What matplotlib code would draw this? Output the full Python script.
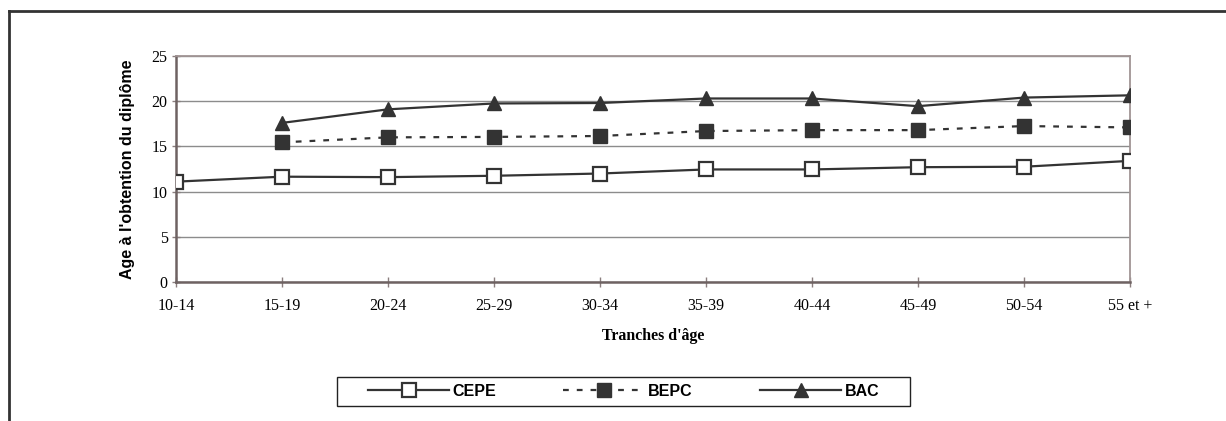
import numpy as np
import matplotlib
matplotlib.use("Agg")
import matplotlib.pyplot as plt
from matplotlib.lines import Line2D
from matplotlib.patches import Rectangle

# categories and series
tranches = ["10-14", "15-19", "20-24", "25-29", "30-34", "35-39",
            "40-44", "45-49", "50-54", "55 et +"]
cepe = [11.1, 11.65, 11.6, 11.75, 12.0, 12.45, 12.45, 12.7, 12.75, 13.4]
bepc = [np.nan, 15.45, 16.0, 16.05, 16.15, 16.7, 16.8, 16.8, 17.25, 17.1]
bac = [np.nan, 17.6, 19.1, 19.75, 19.8, 20.3, 20.3, 19.45, 20.4, 20.65]
yticks = [0, 5, 10, 15, 20, 25]

serif = "Liberation Serif"
sans = "Liberation Sans"
dark = "#333333"
spine_col = "#8a7e7e"
W, H = 1226, 421

fig = plt.figure(figsize=(W / 100, H / 100), dpi=100)
ax = fig.add_axes([176 / W, 1 - 282 / H, (1130 - 176) / W, (282 - 56) / H])

x = np.arange(len(tranches))
ax.plot(x, cepe, color=dark, lw=1.6, marker="s", ms=9.5, mfc="white",
        mec=dark, mew=1.6, label="CEPE", zorder=3)
ax.plot(x, bepc, color=dark, lw=1.6, ls=(0, (2.6, 3.6)), marker="s", ms=10,
        mfc=dark, mec=dark, label="BEPC", zorder=3)
ax.plot(x, bac, color=dark, lw=1.6, marker="^", ms=10, mfc=dark, mec=dark,
        label="BAC", zorder=3)

ax.set_xlim(0, len(tranches) - 1)
ax.set_ylim(0, 25)
ax.set_yticks(yticks)
ax.set_xticks(x)
ax.set_xticklabels(tranches, fontfamily=serif, fontsize=11.5)
ax.set_yticklabels([str(v) for v in yticks], fontfamily=serif, fontsize=11.5)
ax.tick_params(axis="x", direction="inout", length=7, width=1, color=spine_col, pad=8)
ax.tick_params(axis="y", direction="inout", length=6, width=1, color=spine_col, pad=3)

ax.grid(axis="y", color="#8c8c8c", lw=1)
ax.set_axisbelow(True)
for side in ["left", "bottom"]:
    ax.spines[side].set_color("#6e6262")
    ax.spines[side].set_linewidth(1.8)
for side in ["top", "right"]:
    ax.spines[side].set_color("#a09494")
    ax.spines[side].set_linewidth(1.3)

ax.set_ylabel("Age à l'obtention du diplôme", fontfamily=sans, fontweight="bold",
              fontsize=11.5, labelpad=12)
ax.set_xlabel("Tranches d'âge", fontfamily=serif, fontweight="bold",
              fontsize=11.4, labelpad=10)

# legend: entries without frame, box drawn separately (wide side padding)
leg = ax.legend(loc="center", bbox_to_anchor=(623.5 / W, 1 - 391.5 / H),
                bbox_transform=fig.transFigure, ncol=3, frameon=False,
                handlelength=5.1, handletextpad=0.2, columnspacing=4.2,
                borderpad=0, borderaxespad=0,
                prop={"family": sans, "weight": "bold", "size": 11.5})
fig.add_artist(Rectangle((337 / W, 1 - 406 / H), (910 - 337) / W, (406 - 377) / H,
                         transform=fig.transFigure, fill=False,
                         edgecolor="#222222", lw=1.0))

# outer frame (only top and left edges visible)
fig.add_artist(Line2D([9 / W, 1.0], [1 - 11 / H, 1 - 11 / H],
                      color=dark, lw=2, transform=fig.transFigure))
fig.add_artist(Line2D([9 / W, 9 / W], [0, 1 - 11 / H],
                      color=dark, lw=2, transform=fig.transFigure))

fig.savefig("out.png", dpi=100)
